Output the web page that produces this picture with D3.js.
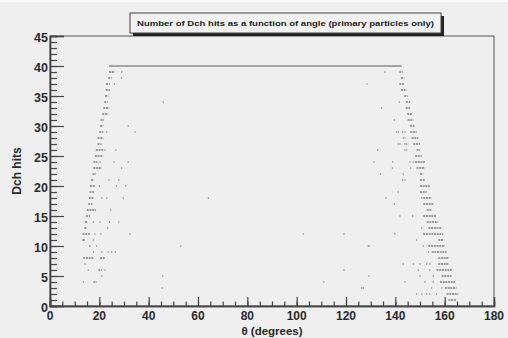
<!DOCTYPE html>
<html>
<head>
<meta charset="utf-8">
<script src="https://cdn.jsdelivr.net/npm/d3@7"></script>
<style>
  html, body { margin: 0; padding: 0; background: #efefef; }
  svg { display: block; font-family: "Liberation Sans", Arial, sans-serif; font-weight: bold; }
</style>
</head>
<body>
<div id="chart"></div>
<script>
// axis ranges and ticks
const xDomain = [0, 180];
const yDomain = [0, 45];
const xTicks = [0, 20, 40, 60, 80, 100, 120, 140, 160, 180];
const yTicks = [0, 5, 10, 15, 20, 25, 30, 35, 40, 45];

// flat run of hits = 40 between these angles
const topRun = [23.9, 142.5];
const topHits = 40;

// dense rows on the left edge: [hits, theta from, theta to]
const leftBands = [
  [39, 23.9, 25.7], [38, 23.6, 25.0], [37, 22.7, 24.3], [36, 22.6, 24.3],
  [35, 22.3, 23.6], [34, 22.0, 23.4], [33, 21.6, 24.1], [32, 21.2, 23.6],
  [31, 20.5, 21.9], [30, 20.3, 21.6], [29, 19.9, 21.6], [28, 19.3, 21.6],
  [27, 19.3, 20.9], [26, 18.6, 21.6], [25, 18.2, 21.6], [24, 17.6, 19.2],
  [23, 17.6, 21.0], [22, 17.3, 18.6], [21, 16.6, 17.8], [20, 16.2, 18.2],
  [19, 16.0, 18.2], [18, 15.7, 17.6], [17, 15.5, 17.2], [16, 14.9, 18.6],
  [15, 14.6, 16.2], [14, 14.2, 15.1], [13, 13.9, 14.9], [12, 13.2, 16.2],
  [11, 13.2, 14.2], [10, 15.9, 16.5], [8, 13.5, 17.6], [8, 20.3, 22.3],
  [6, 19.6, 21.0], [4, 17.6, 18.9]
];

// dense rows on the right edge: [hits, theta from, theta to]
const rightBands = [
  [39, 141.6, 143.0], [38, 142.3, 143.6], [37, 141.6, 143.6], [36, 142.3, 144.6],
  [35, 143.6, 145.0], [34, 144.3, 146.0], [33, 144.2, 146.0], [32, 144.8, 146.9],
  [31, 145.0, 147.3], [30, 145.9, 148.0], [29, 146.0, 148.6], [28, 146.6, 149.3],
  [27, 147.3, 150.0], [26, 148.6, 150.0], [25, 148.0, 150.7], [24, 148.0, 152.0],
  [23, 148.6, 152.0], [22, 150.0, 151.3], [21, 150.0, 152.0], [20, 150.0, 154.0],
  [19, 150.0, 152.7], [18, 151.3, 154.7], [17, 151.3, 155.4], [16, 152.7, 154.7],
  [15, 151.3, 156.7], [14, 152.7, 157.4], [13, 153.4, 158.8], [12, 151.3, 159.4],
  [11, 157.4, 159.4], [10, 153.4, 160.1], [9, 154.7, 160.8], [8, 157.4, 161.5],
  [7, 157.4, 161.5], [6, 156.7, 162.8], [5, 158.8, 162.8], [4, 158.1, 164.2],
  [3, 160.1, 164.8], [2, 160.8, 165.5], [1, 161.5, 164.8]
];

// isolated entries: [theta, hits]
const strayPoints = [
  [25.8, 39], [29.1, 39], [29, 38], [26.1, 37], [45.9, 34], [31.7, 30], [23, 29], [34.5, 29],
  [22.3, 26], [26.7, 26], [20.3, 24], [26, 24], [31.7, 24], [29, 23], [23.9, 21], [27.9, 21],
  [20, 20], [27, 20], [30.7, 20], [21, 18], [23, 18], [29.7, 18], [24.6, 16], [17.6, 14],
  [20.3, 14], [24.1, 14], [27.9, 14], [23.4, 13], [18.2, 12], [20.6, 12], [32.4, 12],
  [17.6, 11], [18.9, 10], [17.6, 9], [21, 9], [23.6, 9], [25, 9], [26.5, 9], [14.2, 7],
  [15.5, 6], [22.3, 6], [21, 5], [13.5, 4],
  [64.2, 18], [53, 10], [45.7, 5], [45.5, 3], [102.7, 12], [119.2, 12], [119.2, 6],
  [111, 4], [127, 3], [129, 10], [129.3, 5], [128.5, 37],
  [135.8, 39], [141.6, 34], [134.4, 33], [139.6, 31], [140.5, 29], [141.2, 29],
  [143, 29], [143.9, 29], [143.2, 28], [143.9, 28], [141.2, 27], [141.9, 27], [143.9, 27],
  [144.6, 27], [132.8, 26], [143.9, 26], [144.6, 26], [131.3, 24], [138.9, 24], [145.9, 24],
  [147.3, 24], [138.8, 23], [146.2, 23], [134, 22], [143.2, 22], [143, 21], [143.9, 21],
  [141.2, 19], [136.2, 18], [150.7, 18], [139.6, 17], [141.9, 15], [147, 15], [150.7, 13],
  [139.8, 12], [148.6, 11], [129.4, 10], [151.3, 10], [153.4, 9], [143.2, 7], [147.3, 7],
  [150, 7], [152.7, 7], [154, 7], [149.3, 6], [154, 6], [150, 5], [155.4, 5],
  [143.9, 4], [152, 4], [155.4, 4], [126.3, 3], [154.7, 3], [158.8, 3], [148.6, 2],
  [150.7, 2], [152.7, 2], [154, 2], [156.7, 2]
];

const titleText = "Number of Dch hits as a function of angle (primary particles only)";
const xTitle = "\u03B8 (degrees)";
const yTitle = "Dch hits";

const width = 508, height = 338;
const margin = { top: 36, right: 14, bottom: 32, left: 50 };
const iw = width - margin.left - margin.right;
const ih = height - margin.top - margin.bottom;

const x = d3.scaleLinear().domain(xDomain).range([0, iw]);
const y = d3.scaleLinear().domain(yDomain).range([ih, 0]);

const svg = d3.select("#chart").append("svg")
  .attr("width", width)
  .attr("height", height);

svg.append("rect").attr("width", width).attr("height", height).attr("fill", "#efefef");
svg.append("rect").attr("width", width).attr("height", 2).attr("fill", "#fbfbfb");

const g = svg.append("g").attr("transform", `translate(${margin.left},${margin.top})`);

// flat top line
g.append("line")
  .attr("x1", x(topRun[0])).attr("x2", x(topRun[1]))
  .attr("y1", y(topHits)).attr("y2", y(topHits))
  .attr("stroke", "#8a8a8a").attr("stroke-width", 1.6);

// dense rows
g.append("g").selectAll("line")
  .data(leftBands.concat(rightBands))
  .join("line")
  .attr("x1", d => x(d[1])).attr("x2", d => x(d[2]))
  .attr("y1", d => y(d[0])).attr("y2", d => y(d[0]))
  .attr("stroke", "#454545")
  .attr("stroke-width", 1.2)
  .attr("stroke-dasharray", "2,0.7");

// isolated points
g.append("g").selectAll("rect")
  .data(strayPoints)
  .join("rect")
  .attr("x", d => x(d[0]) - 0.6)
  .attr("y", d => y(d[1]) - 0.6)
  .attr("width", 1.2).attr("height", 1.2)
  .attr("fill", "#777");

// frame
g.append("rect")
  .attr("width", iw).attr("height", ih)
  .attr("fill", "none").attr("stroke", "#555").attr("stroke-width", 1);

// x axis: ticks pointing inward
const xAxis = d3.axisTop(x).tickValues(xTicks).tickSize(9).tickFormat("");
const xMinor = d3.axisTop(x).ticks(36).tickSize(4.5).tickFormat("");
const gx = g.append("g").attr("transform", `translate(0,${ih})`);
gx.append("g").call(xMinor);
gx.append("g").call(xAxis);
gx.selectAll(".domain").attr("stroke", "#444").attr("stroke-width", 1.4);
gx.selectAll(".tick line").attr("stroke", "#444").attr("stroke-width", 1.2);

g.append("g").selectAll("text")
  .data(xTicks)
  .join("text")
  .attr("x", d => x(d))
  .attr("y", ih + 14)
  .attr("text-anchor", "middle")
  .attr("font-size", 12)
  .attr("fill", "#2a2a2a")
  .text(d => d);

// y axis: ticks pointing inward
const yAxis = d3.axisRight(y).tickValues(yTicks).tickSize(14).tickFormat("");
const yMinor = d3.axisRight(y).ticks(45).tickSize(7).tickFormat("");
const gy = g.append("g");
gy.append("g").call(yMinor);
gy.append("g").call(yAxis);
gy.selectAll(".domain").attr("stroke", "#444").attr("stroke-width", 1.4);
gy.selectAll(".tick line").attr("stroke", "#444").attr("stroke-width", 1.2);

g.append("g").selectAll("text")
  .data(yTicks)
  .join("text")
  .attr("x", -2)
  .attr("y", d => y(d) + 6)
  .attr("text-anchor", "end")
  .attr("font-size", 12.5)
  .attr("fill", "#2a2a2a")
  .text(d => d);

// axis titles
g.append("text")
  .attr("x", iw / 2)
  .attr("y", ih + 28.5)
  .attr("text-anchor", "middle")
  .attr("font-size", 11.5)
  .attr("fill", "#2a2a2a")
  .text(xTitle);

svg.append("text")
  .attr("transform", `translate(21,${margin.top + ih / 2}) rotate(-90)`)
  .attr("text-anchor", "middle")
  .attr("font-size", 12)
  .attr("fill", "#2a2a2a")
  .text(yTitle);

// title box with shadow
const tb = { x: 130, y: 13, w: 311, h: 20 };
svg.append("rect")
  .attr("x", tb.x + 3).attr("y", tb.y + 3).attr("width", tb.w).attr("height", tb.h)
  .attr("fill", "#222");
svg.append("rect")
  .attr("x", tb.x).attr("y", tb.y).attr("width", tb.w).attr("height", tb.h)
  .attr("fill", "#f2f2f2").attr("stroke", "#444").attr("stroke-width", 1);
svg.append("text")
  .attr("x", tb.x + tb.w / 2)
  .attr("y", tb.y + 13)
  .attr("text-anchor", "middle")
  .attr("font-size", 7.8)
  .attr("fill", "#222")
  .attr("textLength", 297)
  .attr("lengthAdjust", "spacingAndGlyphs")
  .text(titleText);
</script>
</body>
</html>
